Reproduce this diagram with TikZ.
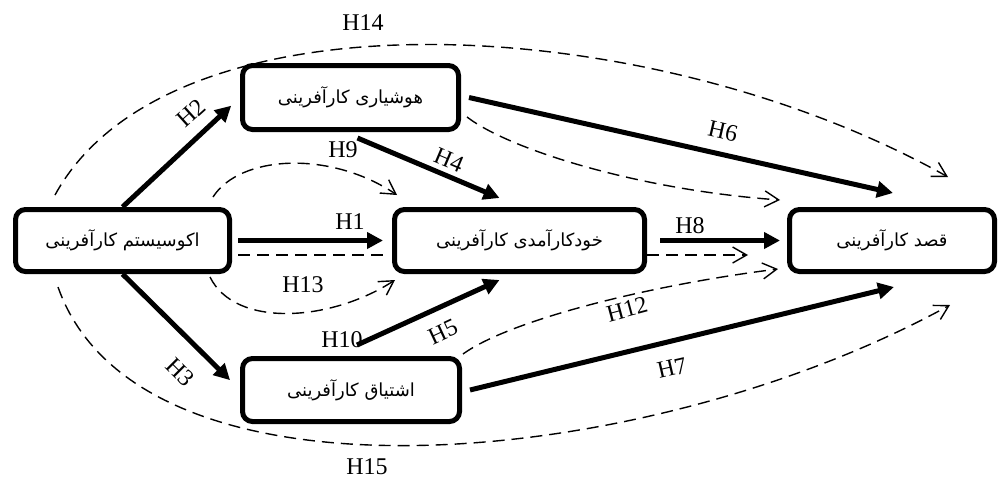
\documentclass[tikz,border=0pt]{standalone}
\usepackage{fontspec}
\setmainfont{Liberation Serif}
\newfontfamily\fa[Script=Arabic]{DejaVu Sans}
\TeXXeTstate=1
\usetikzlibrary{arrows.meta,calc}
\begin{document}
\begin{tikzpicture}[x=0.5pt,y=-0.5pt,
  box/.style={draw,line width=2.5pt,rounded corners=5pt,fill=white,align=center,inner sep=2pt,font=\fa\fontsize{9}{11}\selectfont},
  solidarrow/.style={line width=2.5pt,-{Triangle[length=8pt,width=8pt]}},
  dasharrow/.style={line width=0.7pt,dash pattern=on 6pt off 3.5pt,-{Straight Barb[length=7pt,width=8pt,line width=0.7pt]}},
  dashline/.style={line width=0.7pt,dash pattern=on 6pt off 3.5pt},
  lab/.style={font=\fontsize{12}{14}\selectfont,inner sep=0pt}]
\useasboundingbox (0,0) rectangle (999,477);

% boxes
\node[box,minimum width=107pt,minimum height=31pt] (eco) at (122.5,240.5) {\beginR اکوسیستم کارآفرینی\endR};
\node[box,minimum width=108pt,minimum height=32pt] (alert) at (350.5,97.5) {\beginR هوشیاری کارآفرینی\endR};
\node[box,minimum width=125pt,minimum height=31pt] (self) at (519.5,240.5) {\beginR خودکارآمدی کارآفرینی\endR};
\node[box,minimum width=102.5pt,minimum height=31pt] (intent) at (892,240.5) {\beginR قصد کارآفرینی\endR};
\node[box,minimum width=108.5pt,minimum height=31.5pt] (passion) at (351,390) {\beginR اشتیاق کارآفرینی\endR};

% solid arrows
\draw[solidarrow,shorten >=6pt] (eco.north) -- (alert.west);
\draw[solidarrow,shorten >=7pt] (eco.south) -- (passion.west);
\draw[solidarrow,shorten <=3pt,shorten >=4.5pt] (eco.east) -- (self.west);
\draw[solidarrow] ($(alert.south)+(7,6)$) -- ($(self.north)+(-20,-9)$);
\draw[solidarrow] ($(passion.north)+(6,-11)$) -- ($(self.south)+(-20,6)$);
\draw[solidarrow] ($(alert.east)+(8,0)$) -- ($(intent.north)+(1,-14)$);
\draw[solidarrow] ($(passion.east)+(8,0)$) -- ($(intent.south)+(2,13)$);
\draw[solidarrow,shorten <=6.5pt,shorten >=3.5pt] (self.east) -- (intent.west);

% dashed connectors
\coordinate (dend) at ($(self.east)+(101,14.5)$);
\draw[dashline] ($(eco.east)+(6,14.5)$) -- ($(self.west)+(-4,14.5)$);
\draw[dasharrow] ($(self.east)+(0,14.5)$) -- (dend);
\draw[dasharrow] ($(eco.north west)+(42,-12)$) .. controls (170,-15) and (650,10) .. ($(intent.north)+(56,-30)$);
\draw[dasharrow] ($(eco.south west)+(45,13)$) .. controls (140,520) and (650,470) .. ($(intent.south)+(58,31)$);
\draw[dasharrow] ($(eco.north east)+(-19,-10)$) .. controls (240,155) and (330,150) .. ($(self.north west)+(5,-12)$);
\draw[dasharrow] ($(eco.south east)+(-22,3)$) .. controls (235,328) and (330,322) .. ($(self.south west)+(3,6)$);
\draw[dasharrow] ($(alert.south east)+(6,-15)$) .. controls (510,150) and (640,190) .. ($(intent.north west)+(-7,-7)$);
\draw[dasharrow] ($(passion.north east)+(1,-2)$) .. controls (510,320) and (650,285) .. ($(intent.south west)+(-9,-5)$);

% labels
\node[lab] (l14) at (363,23) {H14};
\node[lab,rotate=42] (l2) at (191,113) {H2};
\node[lab] (l9) at (343,150) {H9};
\node[lab,rotate=-23] (l4) at (449,160) {H4};
\node[lab,rotate=-13] (l6) at (723,131) {H6};
\node[lab] (l1) at (350,222) {H1};
\node[lab] (l8) at (690,226) {H8};
\node[lab] (l13) at (303,285) {H13};
\node[lab] (l10) at (342,340) {H10};
\node[lab,rotate=25] (l5) at (443,332) {H5};
\node[lab,rotate=15] (l12) at (627,309) {H12};
\node[lab,rotate=-45] (l3) at (180,372) {H3};
\node[lab,rotate=13] (l7) at (672,368) {H7};
\node[lab] (l15) at (367,467) {H15};
\end{tikzpicture}
\end{document}
